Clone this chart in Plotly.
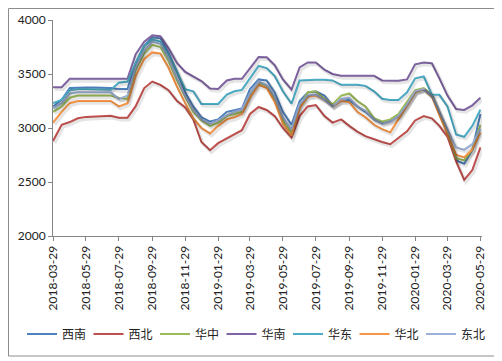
import plotly.graph_objects as go

dates = ["2018-03-29", "2018-04-14", "2018-04-29", "2018-05-14", "2018-05-29", "2018-06-14",
         "2018-06-29", "2018-07-14", "2018-07-29", "2018-08-14", "2018-08-29", "2018-09-14",
         "2018-09-29", "2018-10-14", "2018-10-29", "2018-11-14", "2018-11-29", "2018-12-14",
         "2018-12-29", "2019-01-14", "2019-01-29", "2019-02-14", "2019-02-28", "2019-03-14",
         "2019-03-29", "2019-04-14", "2019-04-29", "2019-05-14", "2019-05-29", "2019-06-14",
         "2019-06-29", "2019-07-14", "2019-07-29", "2019-08-14", "2019-08-29", "2019-09-14",
         "2019-09-29", "2019-10-14", "2019-10-29", "2019-11-14", "2019-11-29", "2019-12-14",
         "2019-12-29", "2020-01-14", "2020-01-29", "2020-02-14", "2020-02-29", "2020-03-14",
         "2020-03-29", "2020-04-14", "2020-04-29", "2020-05-14", "2020-05-29"]

xinan = [3200, 3260, 3370, 3375, 3375, 3375, 3375, 3370, 3360, 3360, 3600, 3760, 3840, 3830,
         3700, 3520, 3330, 3200, 3100, 3060, 3080, 3150, 3165, 3180, 3360, 3450, 3440, 3330,
         3150, 3030, 3250, 3330, 3340, 3300, 3210, 3250, 3260, 3200, 3150, 3080, 3050, 3070,
         3110, 3220, 3340, 3360, 3300, 3140, 2950, 2700, 2670, 2800, 3130]
xibei = [2880, 3030, 3055, 3090, 3103, 3108, 3112, 3114, 3096, 3096, 3200, 3370, 3430, 3400,
         3350, 3250, 3190, 3080, 2870, 2795, 2860, 2904, 2935, 2980, 3130, 3195, 3167, 3110,
         3000, 2910, 3110, 3200, 3213, 3110, 3050, 3080, 3020, 2966, 2925, 2895, 2870, 2850,
         2905, 2970, 3070, 3110, 3090, 3020, 2920, 2690, 2520, 2610, 2820]
huazhong = [3150, 3200, 3280, 3300, 3300, 3300, 3300, 3300, 3280, 3270, 3540, 3690, 3770, 3750,
            3620, 3440, 3290, 3150, 3070, 3020, 3050, 3110, 3130, 3150, 3300, 3420, 3390, 3270,
            3070, 2960, 3200, 3330, 3340, 3270, 3220, 3300, 3320, 3250, 3200, 3090, 3060, 3080,
            3130, 3240, 3350, 3370, 3310, 3140, 2960, 2720, 2700, 2800, 3030]
huanan = [3378, 3378, 3455, 3455, 3455, 3455, 3455, 3455, 3455, 3455, 3680, 3800, 3858, 3850,
          3740, 3600, 3520, 3480, 3435, 3365, 3362, 3440, 3455, 3455, 3550, 3657, 3655, 3580,
          3450, 3355, 3560, 3607, 3607, 3540, 3500, 3483, 3483, 3483, 3483, 3483, 3440, 3437,
          3437, 3450, 3590, 3607, 3600, 3460, 3300, 3175, 3167, 3210, 3280]
huadong = [3230, 3260, 3350, 3360, 3360, 3360, 3360, 3355, 3420, 3430, 3600, 3760, 3820, 3800,
           3680, 3520, 3360, 3340, 3223, 3223, 3223, 3310, 3340, 3353, 3460, 3575, 3555, 3480,
           3340, 3225, 3440, 3446, 3446, 3446, 3440, 3400, 3400, 3400, 3390, 3340, 3270, 3260,
           3260, 3330, 3460, 3477, 3310, 3307, 3200, 2940, 2919, 3020, 3170]
huabei = [3050, 3150, 3230, 3250, 3250, 3250, 3250, 3250, 3200, 3230, 3480, 3640, 3700, 3690,
          3560, 3380, 3230, 3090, 3000, 2950, 3020, 3080, 3100, 3130, 3280, 3400, 3370, 3240,
          3040, 2930, 3180, 3290, 3300, 3260, 3200, 3250, 3240, 3150, 3100, 3030, 2990, 2960,
          3080, 3210, 3330, 3360, 3290, 3120, 2940, 2750, 2730, 2800, 2960]
dongbei = [3180, 3230, 3320, 3330, 3330, 3330, 3330, 3330, 3270, 3300, 3560, 3720, 3800, 3780,
           3650, 3460, 3300, 3170, 3080, 3040, 3070, 3120, 3150, 3170, 3320, 3430, 3400, 3290,
           3100, 2990, 3220, 3300, 3310, 3260, 3200, 3270, 3280, 3200, 3160, 3080, 3040, 3060,
           3110, 3220, 3340, 3360, 3300, 3150, 3000, 2820, 2800, 2850, 2990]

names = ["西南", "西北", "华中", "华南", "华东", "华北", "东北"]
series = [xinan, xibei, huazhong, huanan, huadong, huabei, dongbei]
colors = ["#4F81BD", "#C0504D", "#9BBB59", "#8064A2", "#4BACC6", "#F79646", "#9DB1D6"]

tick_vals = ["2018-03-29", "2018-05-29", "2018-07-29", "2018-09-29", "2018-11-29",
             "2019-01-29", "2019-03-29", "2019-05-29", "2019-07-29", "2019-09-29",
             "2019-11-29", "2020-01-29", "2020-03-29", "2020-05-29"]
y_ticks = [2000, 2500, 3000, 3500, 4000]

FONT = "Lato, 'Noto Sans CJK SC', sans-serif"
fig = go.Figure()

# soft drop shadows (same data drawn on slightly shifted overlay axes)
for vals in series:
    fig.add_trace(go.Scatter(x=dates, y=vals, mode="lines", xaxis="x2", yaxis="y2",
                             line=dict(color="rgba(0,0,0,0.10)", width=3.5),
                             showlegend=False, hoverinfo="skip"))

for name, vals, col in zip(names, series, colors):
    fig.add_trace(go.Scatter(x=dates, y=vals, mode="lines", name=name,
                             line=dict(color=col, width=2)))

# the page body has an 8px default margin, so the figure is sized to the visible area
W, H = 494, 353
L, R, T, B = 45, 20, 12, 125
PW, PH = W - L - R, H - T - B

x_range = ["2018-03-29", "2020-06-01"]
axis_col = "#868686"
fig.update_layout(
    width=W, height=H,
    margin=dict(l=L, r=R, t=T, b=B, autoexpand=False),
    paper_bgcolor="white", plot_bgcolor="white",
    font=dict(family=FONT, size=11, color="#222222"),
    xaxis=dict(type="date", range=x_range, tickvals=tick_vals, ticktext=tick_vals,
               tickangle=-90, showgrid=False, showline=True, linecolor=axis_col,
               ticks="outside", ticklen=4, tickcolor=axis_col,
               tickfont=dict(size=12, family=FONT), zeroline=False, automargin=False),
    yaxis=dict(range=[2000, 4000], tickvals=y_ticks, showgrid=False, showline=True,
               linecolor=axis_col, ticks="outside", ticklen=4, tickcolor=axis_col,
               tickfont=dict(size=12, family=FONT), zeroline=False, automargin=False),
    xaxis2=dict(type="date", range=["2018-03-26", "2020-05-29"], overlaying="x",
                visible=False),
    yaxis2=dict(range=[2019, 4019], overlaying="y", visible=False),
    legend=dict(orientation="h", x=(14 - L) / PW, y=(PH + T - 326) / PH, xanchor="left",
                yanchor="middle", entrywidth=21.5, entrywidthmode="pixels",
                font=dict(size=12, family=FONT), bgcolor="rgba(0,0,0,0)",
                itemwidth=30, tracegroupgap=0),
    showlegend=True,
    shapes=[dict(type="rect", xref="paper", yref="paper",
                 x0=(0.5 - L) / PW, x1=(492 - L) / PW,
                 y0=(PH + T - 348) / PH, y1=(PH + T - 0.5) / PH,
                 line=dict(color="#8C8C8C", width=1), fillcolor="rgba(0,0,0,0)",
                 layer="below")],
)

fig.write_html("out.html")
